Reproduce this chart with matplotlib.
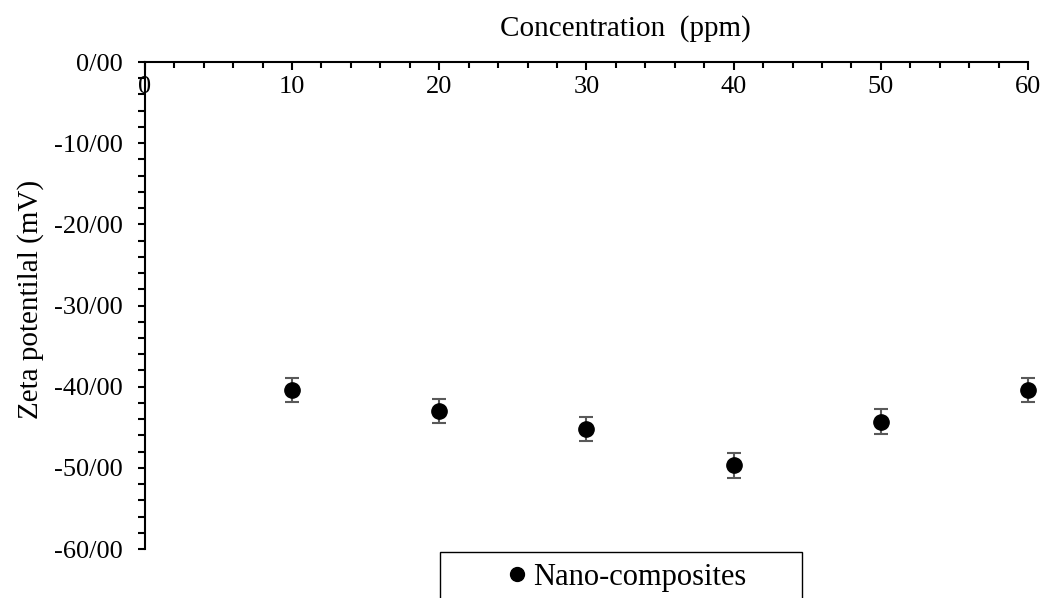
import matplotlib
matplotlib.use("Agg")
import matplotlib.pyplot as plt
from matplotlib.ticker import MultipleLocator, FuncFormatter
from matplotlib.patches import Rectangle
from matplotlib.lines import Line2D

plt.rcParams['font.family'] = ['Liberation Serif', 'DejaVu Serif']

# concentration (ppm) and zeta potential (mV)
concentration = [10, 20, 30, 40, 50, 60]
zeta = [-40.4, -43.0, -45.2, -49.7, -44.3, -40.4]
zeta_err = [1.5, 1.5, 1.5, 1.5, 1.5, 1.5]
series_name = 'Nano-composites'

fig = plt.figure(figsize=(10.42, 5.98), dpi=100)
ax = fig.add_axes([0.139, 0.0819, 0.8477, 0.8144])

eb = ax.errorbar(concentration, zeta, yerr=zeta_err, fmt='o', color='black',
                 markersize=11, ecolor='#595959', elinewidth=1.5, capsize=5,
                 capthick=1.5, zorder=3)
for artist in eb.lines[0:1] + tuple(eb.lines[1]) + tuple(eb.lines[2]):
    artist.set_clip_on(False)

ax.set_xlim(0, 60)
ax.set_ylim(-60, 0)

# horizontal axis sits at y = 0 (top)
ax.spines['bottom'].set_position(('data', 0))
ax.spines['top'].set_visible(False)
ax.spines['right'].set_visible(False)
for s in ['bottom', 'left']:
    ax.spines[s].set_linewidth(1.5)

ax.xaxis.set_major_locator(MultipleLocator(10))
ax.xaxis.set_minor_locator(MultipleLocator(2))
ax.yaxis.set_major_locator(MultipleLocator(10))
ax.yaxis.set_minor_locator(MultipleLocator(2))
ax.yaxis.set_major_formatter(FuncFormatter(lambda v, p: f"{int(round(v))}/00"))

ax.tick_params(axis='x', which='major', direction='out', length=6, width=1.5,
               pad=4, labelsize=19)
ax.tick_params(axis='x', which='minor', direction='out', length=4.5, width=1.5)
ax.tick_params(axis='y', which='major', direction='out', length=5, width=1.5,
               pad=11, labelsize=19)
ax.tick_params(axis='y', which='minor', direction='out', length=5, width=1.5)

fig.text(625 / 1042, 0.953, 'Concentration  (ppm)', ha='center', va='center', fontsize=21)
fig.text(0.029, 0.50, 'Zeta potentilal (mV)', ha='center', va='center',
         rotation=90, fontsize=21)

# legend box
fig.patches.append(Rectangle((440 / 1042, -0.05), 362 / 1042, 0.05 + 46 / 598,
                             transform=fig.transFigure, facecolor='white',
                             edgecolor='black', linewidth=1.0))
handle = Line2D([], [], marker='o', linestyle='none', color='black', markersize=10)
fig.legend([handle], [series_name], loc='center',
           bbox_to_anchor=(624 / 1042, 1 - 577 / 598),
           frameon=False, fontsize=22, handletextpad=0.0, handlelength=1.0)

fig.savefig('out.png', dpi=100)
